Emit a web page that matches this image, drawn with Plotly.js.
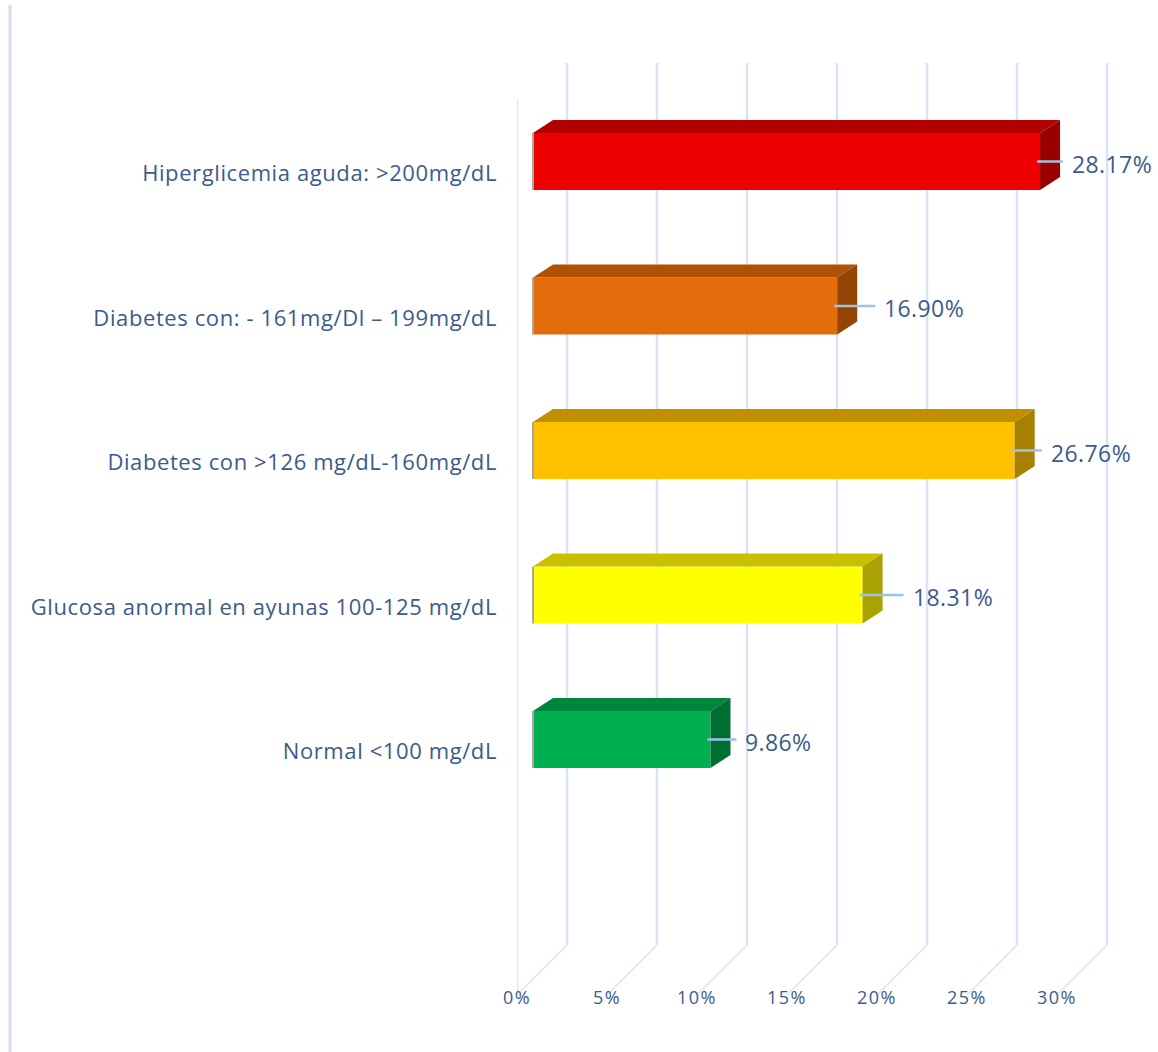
<!DOCTYPE html>
<html><head><meta charset="utf-8">
<script src="https://cdn.plot.ly/plotly-3.0.1.min.js"></script>
<style>
html,body{margin:0;padding:0;background:#fff}
#chart{width:1158px;height:1052px}
.y2tick text{letter-spacing:0.6px}
.x2tick text{letter-spacing:1.5px}
.annotation-text{letter-spacing:0.4px}
</style>
</head><body><div id="chart"></div>
<script>
// ---- data ----
const categories = ["Hiperglicemia aguda: >200mg/dL", "Diabetes con: - 161mg/Dl \u2013 199mg/dL", "Diabetes con >126 mg/dL-160mg/dL", "Glucosa anormal en ayunas 100-125 mg/dL", "Normal <100 mg/dL"];
const values = [28.17, 16.90, 26.76, 18.31, 9.86];
const valueLabels = ["28.17%", "16.90%", "26.76%", "18.31%", "9.86%"];
const tickVals = [0, 5, 10, 15, 20, 25, 30];
const tickText = ["0%", "5%", "10%", "15%", "20%", "25%", "30%"];
const frontColors = ["#EE0000", "#E36C0A", "#FFC000", "#FFFF00", "#00B050"];
const topColors = ["#B20000", "#B05206", "#C09000", "#C8C000", "#00863C"];
const sideColors = ["#990000", "#944505", "#A68000", "#A9A200", "#006E30"];

// ---- geometry (pixels) ----
const W = 1158, H = 1052;
const plotLeft = 517;          // front floor 0%
const barZeroPx = 533;         // bars front face 0%
const pxPerUnit = 18;          // px per 1%
const rowPx = 144.5;           // px per category
const row0Px = 161.5;          // centre of first bar
const labelShiftPx = 12;       // category labels sit lower
const halfBar = 28.5 / rowPx;  // half bar thickness in row units
const depthDx = 20 / pxPerUnit, depthDy = 13 / rowPx;
const wallDx = 50 / pxPerUnit;
const txtColor = "#3b5b8c";
const gridColor = "#d9e3f3";
const idx = categories.map((c, i) => i);
const rowOf = px => (px - row0Px) / rowPx;
const labelGapPx = [30, 45, 34, 48, 33];

const shapes = [];
// chart left border
shapes.push({type: "line", xref: "paper", yref: "paper", x0: -(plotLeft - 10) / (W - plotLeft), x1: -(plotLeft - 10) / (W - plotLeft), y0: 0, y1: 1 - 5 / H, line: {color: "#d3dff0", width: 3}, layer: "below"});
// left wall front edge
shapes.push({type: "line", xref: "x2", yref: "y", x0: 0, x1: 0, y0: rowOf(100), y1: rowOf(995), line: {color: gridColor, width: 2.5}, layer: "below"});
// back wall gridlines + floor diagonals
tickVals.forEach(v => {
  shapes.push({type: "line", xref: "x2", yref: "y", x0: v + wallDx, x1: v + wallDx, y0: rowOf(63), y1: rowOf(945), line: {color: gridColor, width: 2.5}, layer: "below"});
  shapes.push({type: "line", xref: "x2", yref: "y", x0: v + wallDx, x1: v, y0: rowOf(945), y1: rowOf(995), line: {color: "#e3eaf6", width: 2}, layer: "below"});
});
// 3D faces of bars
values.forEach((v, i) => {
  const t = i - halfBar, b = i + halfBar;
  shapes.push({type: "path", xref: "x", yref: "y", layer: "above", line: {width: 0},
    fillcolor: topColors[i],
    path: `M 0,${t} L ${v},${t} L ${v + depthDx},${t - depthDy} L ${depthDx},${t - depthDy} Z`});
  shapes.push({type: "path", xref: "x", yref: "y", layer: "above", line: {width: 0},
    fillcolor: sideColors[i],
    path: `M ${v},${t} L ${v + depthDx},${t - depthDy} L ${v + depthDx},${b - depthDy} L ${v},${b} Z`});
  shapes.push({type: "line", xref: "x", yref: "y", x0: 0, x1: 0, y0: t, y1: b, line: {color: "#aaa59e", width: 2}, layer: "above"});
  // leader line
  shapes.push({type: "line", xref: "x", yref: "y", xsizemode: "pixel", xanchor: v, x0: -3, x1: labelGapPx[i] - 7,
    ysizemode: "pixel", yanchor: i, y0: 0, y1: 0, line: {color: "#9dc3e6", width: 2.5}, layer: "above"});
});

const annotations = values.map((v, i) => ({
  x: v, y: i, xref: "x", yref: "y", xanchor: "left", yanchor: "middle", xshift: labelGapPx[i], yshift: -2,
  text: valueLabels[i], showarrow: false, font: {family: "Open Sans, sans-serif", size: 23, color: txtColor}
}));

const traces = [
  {type: "bar", orientation: "h", x: values, y: idx, width: 2 * halfBar, xaxis: "x", yaxis: "y",
   marker: {color: frontColors, line: {width: 0}}, hoverinfo: "none"},
  {type: "scatter", mode: "markers", x: [0], y: [0], xaxis: "x2", yaxis: "y2", marker: {opacity: 0}, hoverinfo: "none"}
];

const xLo = (plotLeft - barZeroPx) / pxPerUnit, xHi = (W - barZeroPx) / pxPerUnit;
const layout = {
  width: W, height: H, showlegend: false,
  paper_bgcolor: "#ffffff", plot_bgcolor: "rgba(0,0,0,0)",
  margin: {l: plotLeft, r: 0, t: 0, b: 0},
  xaxis: {range: [xLo, xHi], visible: false, fixedrange: true},
  xaxis2: {overlaying: "x", anchor: "free", position: (H - 985) / H, side: "bottom",
    range: [0, (W - plotLeft) / pxPerUnit], tickmode: "array", tickvals: tickVals, ticktext: tickText,
    showgrid: false, zeroline: false, showline: false, ticks: "",
    tickfont: {family: "Open Sans, sans-serif", size: 18, color: txtColor}},
  yaxis: {range: [(H - row0Px) / rowPx, -row0Px / rowPx], visible: false, fixedrange: true},
  yaxis2: {overlaying: "y", side: "left", anchor: "x",
    range: [(H - row0Px - labelShiftPx) / rowPx, -(row0Px + labelShiftPx) / rowPx],
    tickmode: "array", tickvals: idx, ticktext: categories, showgrid: false, zeroline: false, showline: false,
    ticks: "", ticklabelstandoff: 19,
    tickfont: {family: "Open Sans, sans-serif", size: 22, color: txtColor}},
  shapes: shapes, annotations: annotations
};
Plotly.newPlot("chart", traces, layout, {staticPlot: true});
</script>
</body></html>
